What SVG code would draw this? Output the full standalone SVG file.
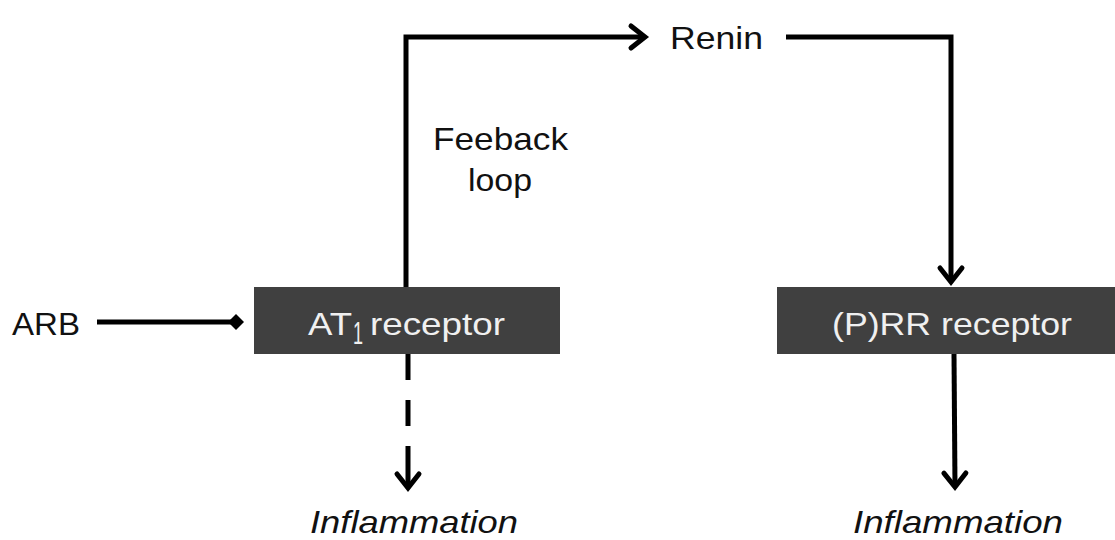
<svg xmlns="http://www.w3.org/2000/svg" width="1115" height="540" viewBox="0 0 1115 540">
<style>
text{font-family:"Liberation Sans",Arial,sans-serif;font-size:32px;fill:#111}
.box{fill:#404040}
.bt{fill:#f0f0f0}
.ln{fill:none;stroke:#000;stroke-width:5}
.it{font-style:italic}
</style>
<defs>
<marker id="chev" viewBox="-15 -12 17 24" refX="0" refY="0" markerWidth="17" markerHeight="24" markerUnits="userSpaceOnUse" orient="auto" overflow="visible">
<path d="M-14,-11 L0,0 L-14,11" fill="none" stroke="#000" stroke-width="5" stroke-linecap="round" stroke-linejoin="miter"/>
</marker>
</defs>
<g id="connectors">
<path class="ln" d="M97,322 H232"/>
<path d="M228,322 L236,314 L244,322 L236,330 Z" fill="#000"/>
<path class="ln" d="M406,287 V37 H645" marker-end="url(#chev)"/>
<path class="ln" d="M786,37 H951 V282" marker-end="url(#chev)"/>
<path class="ln" d="M954,354 L955,487" marker-end="url(#chev)"/>
<path class="ln" d="M408,354 V466" stroke-dasharray="26,20"/>
<path class="ln" d="M408,466 V488" marker-end="url(#chev)"/>
</g>
<g id="arb"><text x="12" y="335" textLength="68" lengthAdjust="spacingAndGlyphs">ARB</text></g>
<g id="renin"><text x="670" y="49" textLength="93" lengthAdjust="spacingAndGlyphs">Renin</text></g>
<g id="feedback"><text x="433" y="150" textLength="135" lengthAdjust="spacingAndGlyphs">Feeback</text><text x="468" y="191" textLength="64" lengthAdjust="spacingAndGlyphs">loop</text></g>
<g id="at1"><rect class="box" x="254" y="287" width="306" height="67"/>
<text class="bt" x="308" y="335" textLength="44" lengthAdjust="spacingAndGlyphs">AT</text>
<text class="bt" x="353" y="344" font-size="20" textLength="10" lengthAdjust="spacingAndGlyphs">1</text>
<text class="bt" x="370" y="335" textLength="135" lengthAdjust="spacingAndGlyphs">receptor</text></g>
<g id="prr"><rect class="box" x="777" y="287" width="338" height="67"/><text class="bt" x="832" y="335" textLength="240" lengthAdjust="spacingAndGlyphs">(P)RR receptor</text></g>
<g id="infl1"><text class="it" x="310" y="533" textLength="208" lengthAdjust="spacingAndGlyphs">Inflammation</text></g>
<g id="infl2"><text class="it" x="853" y="533" textLength="210" lengthAdjust="spacingAndGlyphs">Inflammation</text></g>
</svg>
